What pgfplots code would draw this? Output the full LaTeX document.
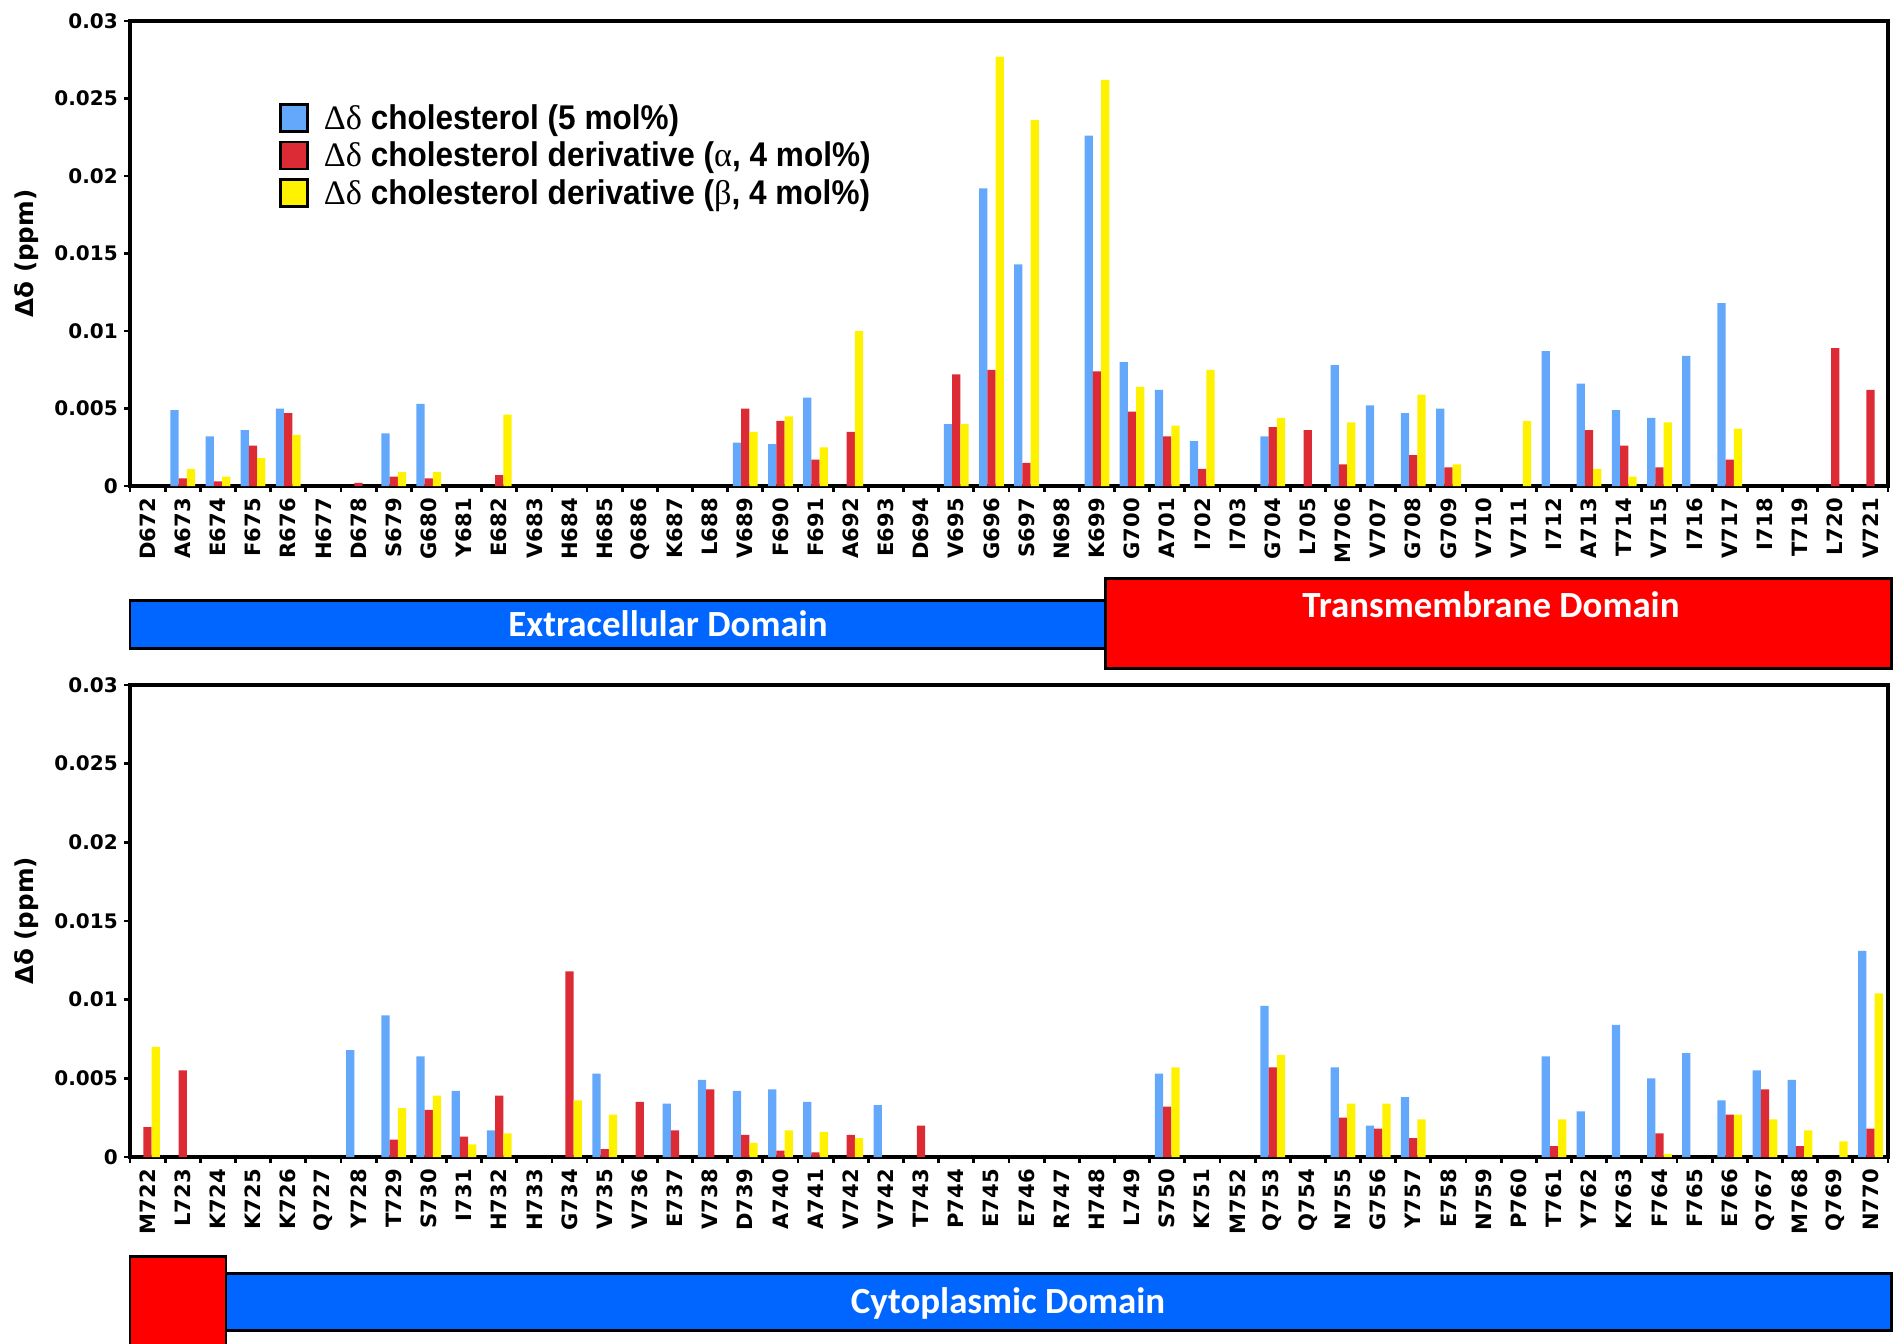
\documentclass[border=0pt]{standalone}
\usepackage{pgfplots}
\pgfplotsset{compat=1.18}
\usepackage{fontspec}
\setmainfont{DejaVu Sans}
\newfontfamily\legfont[FakeStretch=0.92]{Liberation Sans}
\newfontfamily\serfont{Liberation Serif}
\newfontfamily\domfont{Carlito}
\definecolor{cblue}{HTML}{63A8FA}
\definecolor{cred}{HTML}{DC2B35}
\definecolor{cyel}{HTML}{FFF200}
\definecolor{dblue}{HTML}{0066FF}
\definecolor{dred}{HTML}{FF0000}

\pgfplotsset{
  mybars/.style={
    width=35.16cm, scale only axis,
    xmin=-0.5, xmax=49.5, ymin=0, ymax=0.03,
    ybar=0pt, bar width=0.165cm,
    axis line style={line width=2pt, black},
    tick align=outside,
    xtick pos=bottom, ytick pos=left,
    every tick/.style={black, line width=1.6pt},
    major tick length=0.12cm, minor tick length=0.12cm,
    xtick={0,...,49},
    major x tick style={draw=none},
    minor xtick={-0.5,0.5,...,49.5},
    scaled y ticks=false,
    ytick={0,0.005,0.01,0.015,0.02,0.025,0.03},
    yticklabels={0,0.005,0.01,0.015,0.02,0.025,0.03},
    yticklabel style={font=\fontsize{11.4}{12}\selectfont\bfseries},
    xticklabel style={rotate=90, anchor=east, font=\fontsize{12}{12}\selectfont\bfseries},
    ylabel={Δδ (ppm)},
    every axis y label/.style={at={(axis description cs:-0.0586,0.5)}, rotate=90, anchor=center, font=\fontsize{14}{14}\selectfont\bfseries},
    clip=false,
  },
  legbox/.style={legend image code/.code={\draw[##1,draw=black,line width=1.4pt] (0cm,-0.27cm) rectangle (0.54cm,0.27cm);}},
}

\begin{document}
\begin{tikzpicture}
\useasboundingbox (0,0) rectangle (38.08,-26.86);
\begin{axis}[mybars, at={(2.6cm,-0.42cm)}, anchor=north west, height=9.30cm,
  xticklabels={D672,A673,E674,F675,R676,H677,D678,S679,G680,Y681,E682,V683,H684,H685,Q686,K687,L688,V689,F690,F691,A692,E693,D694,V695,G696,S697,N698,K699,G700,A701,I702,I703,G704,L705,M706,V707,G708,G709,V710,V711,I712,A713,T714,V715,I716,V717,I718,T719,L720,V721},
  legend style={at={(0.0848,0.832)}, anchor=north west, draw=none, fill=none, inner sep=0pt, row sep=0cm, column sep=0.2cm,
    font=\legfont\fontsize{19.5}{20}\selectfont\bfseries, nodes={inner sep=0.1cm}},
  legend cell align=left,
]
\addplot[fill=cblue, draw=none, legbox] coordinates {
(1,0.0049) (2,0.0032) (3,0.0036) (4,0.0050) (7,0.0034) (8,0.0053)
(17,0.0028) (18,0.0027) (19,0.0057) (23,0.0040) (24,0.0192) (25,0.0143)
(27,0.0226) (28,0.0080) (29,0.0062) (30,0.0029) (32,0.0032) (34,0.0078)
(35,0.0052) (36,0.0047) (37,0.0050) (40,0.0087) (41,0.0066) (42,0.0049)
(43,0.0044) (44,0.0084) (45,0.0118)};
\addlegendentry{{\serfont\mdseries Δδ} cholesterol (5 mol\%)}
\addplot[fill=cred, draw=none, legbox] coordinates {
(1,0.0005) (2,0.0003) (3,0.0026) (4,0.0047) (6,0.0002) (7,0.0006) (8,0.0005)
(10,0.0007) (17,0.0050) (18,0.0042) (19,0.0017) (20,0.0035) (23,0.0072)
(24,0.0075) (25,0.0015) (27,0.0074) (28,0.0048) (29,0.0032) (30,0.0011)
(32,0.0038) (33,0.0036) (34,0.0014) (36,0.0020) (37,0.0012) (41,0.0036)
(42,0.0026) (43,0.0012) (45,0.0017) (48,0.0089) (49,0.0062)};
\addlegendentry{{\serfont\mdseries Δδ} cholesterol derivative ({\serfont\mdseries α}, 4 mol\%)}
\addplot[fill=cyel, draw=none, legbox] coordinates {
(1,0.0011) (2,0.0006) (3,0.0018) (4,0.0033) (7,0.0009) (8,0.0009) (10,0.0046)
(17,0.0035) (18,0.0045) (19,0.0025) (20,0.0100) (23,0.0040) (24,0.0277)
(25,0.0236) (27,0.0262) (28,0.0064) (29,0.0039) (30,0.0075) (32,0.0044)
(34,0.0041) (36,0.0059) (37,0.0014) (39,0.0042) (41,0.0011) (42,0.0006)
(43,0.0041) (45,0.0037)};
\addlegendentry{{\serfont\mdseries Δδ} cholesterol derivative ({\serfont\mdseries β}, 4 mol\%)}
\end{axis}

\begin{axis}[mybars, at={(2.6cm,-13.7cm)}, anchor=north west, height=9.44cm,
  xticklabels={M722,L723,K724,K725,K726,Q727,Y728,T729,S730,I731,H732,H733,G734,V735,V736,E737,V738,D739,A740,A741,V742,V742,T743,P744,E745,E746,R747,H748,L749,S750,K751,M752,Q753,Q754,N755,G756,Y757,E758,N759,P760,T761,Y762,K763,F764,F765,E766,Q767,M768,Q769,N770},
]
\addplot[fill=cblue, draw=none] coordinates {
(6,0.0068) (7,0.0090) (8,0.0064) (9,0.0042) (10,0.0017) (13,0.0053)
(15,0.0034) (16,0.0049) (17,0.0042) (18,0.0043) (19,0.0035) (21,0.0033)
(29,0.0053) (32,0.0096) (34,0.0057) (35,0.0020) (36,0.0038) (40,0.0064)
(41,0.0029) (42,0.0084) (43,0.0050) (44,0.0066) (45,0.0036) (46,0.0055)
(47,0.0049) (49,0.0131)};
\addplot[fill=cred, draw=none] coordinates {
(0,0.0019) (1,0.0055) (7,0.0011) (8,0.0030) (9,0.0013) (10,0.0039)
(12,0.0118) (13,0.0005) (14,0.0035) (15,0.0017) (16,0.0043) (17,0.0014)
(18,0.0004) (19,0.0003) (20,0.0014) (22,0.0020) (29,0.0032) (32,0.0057)
(34,0.0025) (35,0.0018) (36,0.0012) (40,0.0007) (43,0.0015) (45,0.0027)
(46,0.0043) (47,0.0007) (49,0.0018)};
\addplot[fill=cyel, draw=none] coordinates {
(0,0.0070) (7,0.0031) (8,0.0039) (9,0.0008) (10,0.0015) (12,0.0036)
(13,0.0027) (17,0.0009) (18,0.0017) (19,0.0016) (20,0.0012) (29,0.0057)
(32,0.0065) (34,0.0034) (35,0.0034) (36,0.0024) (40,0.0024) (43,0.0002)
(45,0.0027) (46,0.0024) (47,0.0017) (48,0.0010) (49,0.0104)};
\end{axis}

% domain bars
\draw[fill=dblue, line width=1.7pt] (2.6,-12.0) rectangle (22.1,-12.96);
\draw[fill=dred, line width=1.7pt] (22.1,-11.56) rectangle (37.82,-13.36);
\node[text=white, font=\domfont\fontsize{21}{22}\selectfont\bfseries] at (13.36,-12.48) {Extracellular Domain};
\node[text=white, font=\domfont\fontsize{21}{22}\selectfont\bfseries] at (29.82,-12.1) {Transmembrane Domain};
\draw[fill=dblue, line width=1.7pt] (4.52,-25.46) rectangle (37.82,-26.6);
\draw[fill=dred, line width=1.7pt] (2.6,-25.12) rectangle (4.52,-27.3);
\node[text=white, font=\domfont\fontsize{21}{22}\selectfont\bfseries] at (20.16,-26.06) {Cytoplasmic Domain};
\end{tikzpicture}
\end{document}
